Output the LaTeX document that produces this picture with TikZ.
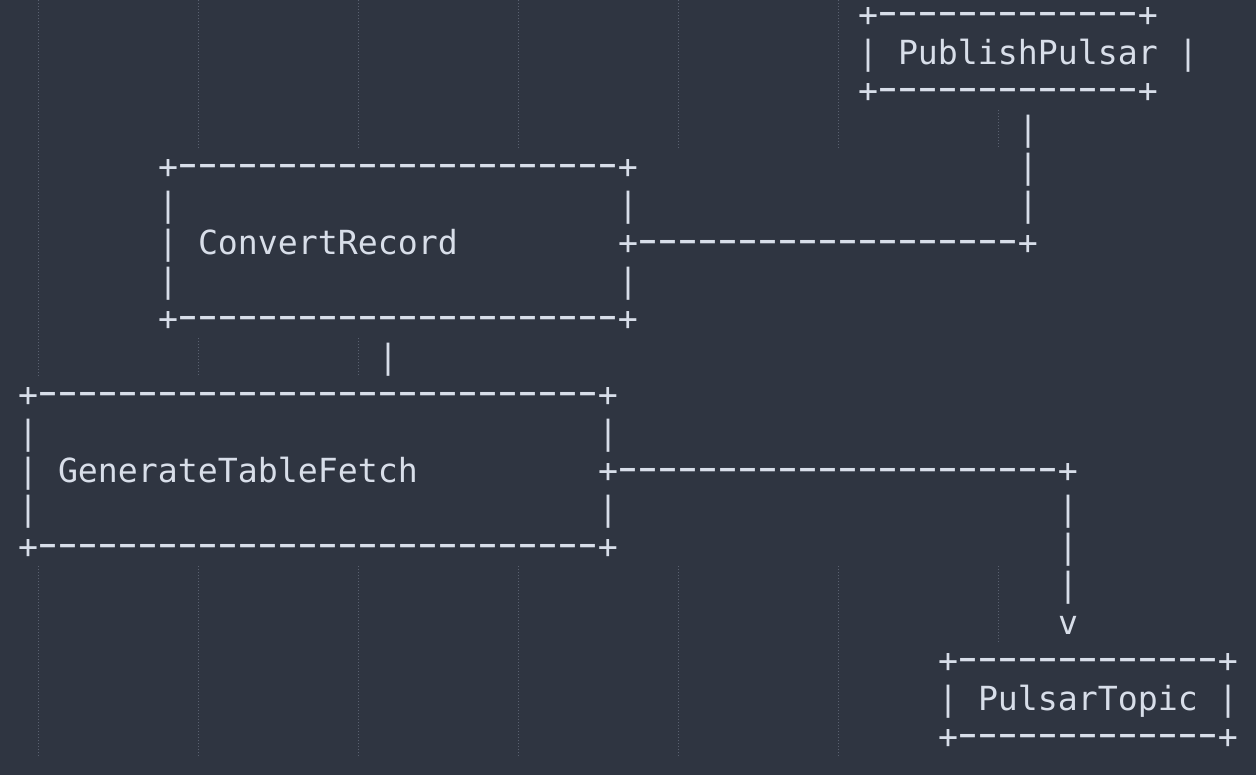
\documentclass[tikz,border=0pt]{standalone}
\usepackage{fontspec}
\setmonofont{DejaVu Sans Mono}
\definecolor{bg}{HTML}{2F3541}
\definecolor{fg}{HTML}{D8DEE9}
\definecolor{guide}{HTML}{5A6170}
\tikzset{
  asc/.style={anchor=base west, inner sep=0pt, outer sep=0pt, text=fg,
    font=\ttfamily\fontsize{33.2}{38}\selectfont},
  guideline/.style={draw=guide, line width=1pt, dash pattern=on 1pt off 2pt},
}
% one wide hyphen in a 20pt character cell
\newcommand\dsh{\makebox[20pt][c]{\raisebox{1.1pt}{\scalebox{1.75}[1.25]{-}}}}
\newcommand\dashes[1]{\foreach \i in {1,...,#1}{\dsh}}
% #1 name, #2 column, #3 row, #4 text
\newcommand\ascnode[4]{\node[asc] (#1) at ({18+20*#2},{26.3+38*#3}) {#4};}
% #1 guide index, #2 first row, #3 last row
\newcommand\guideseg[3]{\draw[guideline] ({38+160*#1},{max(0,-4+38*#2)}) -- ({38+160*#1},{34+38*#3});}
\begin{document}
\begin{tikzpicture}[x=1pt,y=-1pt]
\fill[bg] (0,0) rectangle (1256,775);
\useasboundingbox (0,0) rectangle (1256,775);
% indentation guides
\guideseg{0}{0}{9}
\guideseg{0}{15}{19}
\foreach \k in {1,2}{\guideseg{\k}{0}{3}\guideseg{\k}{9}{9}\guideseg{\k}{15}{19}}
\foreach \k in {3,4,5}{\guideseg{\k}{0}{3}\guideseg{\k}{15}{19}}
\guideseg{6}{3}{3}
\guideseg{6}{15}{16}
% PublishPulsar box
\ascnode{ppTop}{42}{0}{+\dashes{13}+}
\ascnode{ppL}{42}{1}{|}
\ascnode{pp}{44}{1}{PublishPulsar}
\ascnode{ppR}{58}{1}{|}
\ascnode{ppBot}{42}{2}{+\dashes{13}+}
% connector PublishPulsar -> ConvertRecord
\ascnode{c1a}{50}{3}{|}
\ascnode{c1b}{50}{4}{|}
\ascnode{c1c}{50}{5}{|}
% ConvertRecord box
\ascnode{crTop}{7}{4}{+\dashes{22}+}
\ascnode{crL1}{7}{5}{|}
\ascnode{crR1}{30}{5}{|}
\ascnode{crL2}{7}{6}{|}
\ascnode{cr}{9}{6}{ConvertRecord}
\ascnode{c1d}{30}{6}{+\dashes{19}+}
\ascnode{crL3}{7}{7}{|}
\ascnode{crR3}{30}{7}{|}
\ascnode{crBot}{7}{8}{+\dashes{22}+}
% connector ConvertRecord -> GenerateTableFetch
\ascnode{c2}{18}{9}{|}
% GenerateTableFetch box
\ascnode{gtTop}{0}{10}{+\dashes{28}+}
\ascnode{gtL1}{0}{11}{|}
\ascnode{gtR1}{29}{11}{|}
\ascnode{gtL2}{0}{12}{|}
\ascnode{gt}{2}{12}{GenerateTableFetch}
\ascnode{c3a}{29}{12}{+\dashes{22}+}
\ascnode{gtL3}{0}{13}{|}
\ascnode{gtR3}{29}{13}{|}
\ascnode{gtBot}{0}{14}{+\dashes{28}+}
% connector GenerateTableFetch -> PulsarTopic
\ascnode{c3b}{52}{13}{|}
\ascnode{c3c}{52}{14}{|}
\ascnode{c3d}{52}{15}{|}
\ascnode{c3e}{52}{16}{v}
% PulsarTopic box
\ascnode{ptTop}{46}{17}{+\dashes{13}+}
\ascnode{ptL}{46}{18}{|}
\ascnode{pt}{48}{18}{PulsarTopic}
\ascnode{ptR}{60}{18}{|}
\ascnode{ptBot}{46}{19}{+\dashes{13}+}
\end{tikzpicture}
\end{document}
